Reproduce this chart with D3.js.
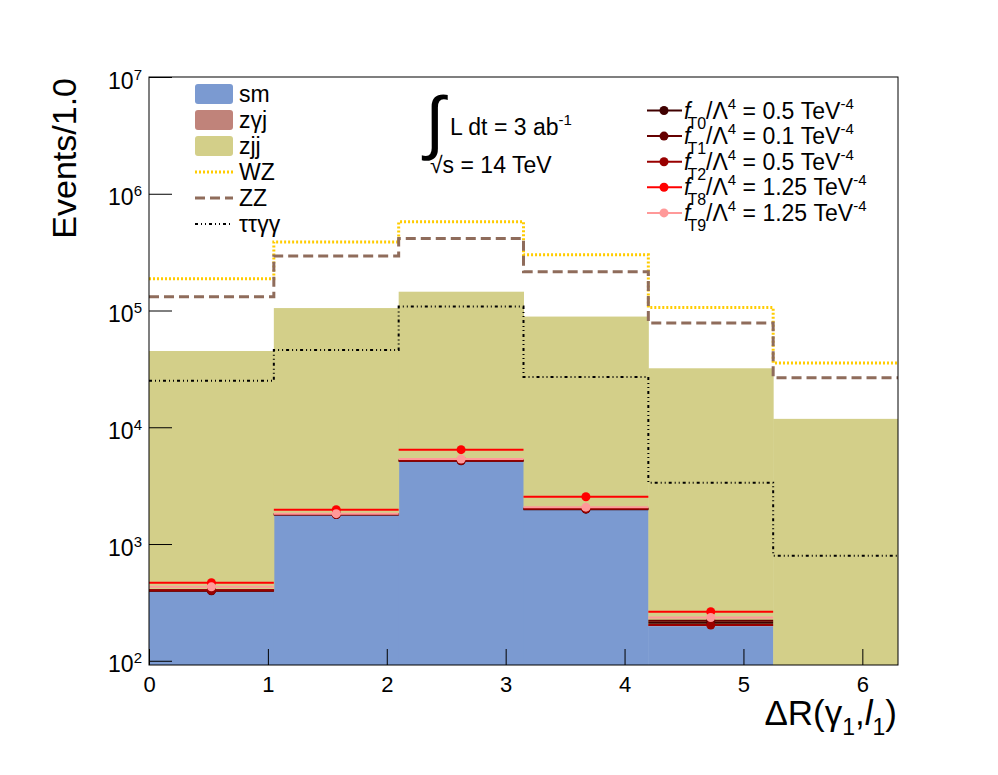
<!DOCTYPE html>
<html>
<head>
<meta charset="UTF-8">
<title>dR(gamma1, l1)</title>
<script src="https://d3js.org/d3.v7.min.js"></script>
<style>
  body { margin: 0; background: #fff; }
  svg text { font-family: "Liberation Sans", Arial, Helvetica, sans-serif; fill: #000; }
</style>
</head>
<body>
<div id="chart"></div>
<script>
// bins of dR(gamma1, l1)
const binEdges = [0, 1.05, 2.1, 3.15, 4.2, 5.25, 6.3];

// stacked backgrounds (bottom to top)
const smVals  = [392, 1770, 5150, 1980, 198, 0];
const zgjVals = [20, 60, 150, 60, 8, 3];
const zjjVals = [44600, 103100, 139600, 86700, 31800, 11800];

// line-only backgrounds
const wzVals   = [187000, 387000, 575000, 300000, 106000, 35600];
const zzVals   = [131000, 293000, 413000, 215000, 78000, 26500];
const ttggVals = [25000, 46000, 108000, 27000, 3350, 795];

// aQGC signals
const t0Vals = [398, 1790, 5170, 1990, 212, 0];
const t1Vals = [400, 1795, 5190, 2000, 220, 0];
const t2Vals = [402, 1800, 5200, 2005, 202, 0];
const t8Vals = [466, 1970, 6430, 2540, 263, 0];
const t9Vals = [430, 1820, 5350, 2070, 235, 0];

const xTicks = [0, 1, 2, 3, 4, 5, 6];
const yTicks = [1e2, 1e3, 1e4, 1e5, 1e6, 1e7];

const width = 998, height = 775;
const margin = { top: 77, right: 100, bottom: 110, left: 149 };

const svg = d3.select("#chart").append("svg")
  .attr("width", width).attr("height", height);

svg.append("rect").attr("width", width).attr("height", height).attr("fill", "#fff");

const x = d3.scaleLinear().domain([0, 6.3]).range([margin.left, width - margin.right]);
const y = d3.scaleLog().domain([92, 1e7]).range([height - margin.bottom, margin.top]);

svg.append("clipPath").attr("id", "plot")
  .append("rect")
  .attr("x", margin.left).attr("y", margin.top)
  .attr("width", x(6.3) - x(0)).attr("height", y(92) - y(1e7));

const plot = svg.append("g").attr("clip-path", "url(#plot)");

// stacked fills
const rows = smVals.map((d, i) => ({ bin: i, sm: d, zgj: zgjVals[i], zjj: zjjVals[i] }));
const stack = d3.stack().keys(["sm", "zgj", "zjj"])(rows);
const fillColor = { sm: "#7b9ad1", zgj: "#c0837a", zjj: "#d3cf89" };
const yFloor = v => y(Math.max(v, 92));

stack.forEach(layer => {
  plot.selectAll(null)
    .data(layer.filter(d => d[1] > d[0]))
    .enter().append("rect")
    .attr("x", d => x(binEdges[d.data.bin]))
    .attr("width", d => x(binEdges[d.data.bin + 1]) - x(binEdges[d.data.bin]) + 0.5)
    .attr("y", d => yFloor(d[1]))
    .attr("height", d => yFloor(d[0]) - yFloor(d[1]))
    .attr("fill", fillColor[layer.key]);
});

// step outlines
const step = d3.line().curve(d3.curveStepAfter).x(d => x(d[0])).y(d => y(d[1]));
function stepPts(vals) {
  const pts = vals.map((v, i) => [binEdges[i], v]);
  pts.push([binEdges[vals.length], vals[vals.length - 1]]);
  return pts;
}
const lines = [
  { vals: wzVals, color: "#ffcc00", w: 3, dash: "2,2" },
  { vals: zzVals, color: "#8f6c5b", w: 3, dash: "10,5" },
  { vals: ttggVals, color: "#000", w: 2, dash: "3,3,1,3,1,3" }
];
lines.forEach(l => {
  plot.append("path").datum(stepPts(l.vals))
    .attr("d", step).attr("fill", "none")
    .attr("stroke", l.color).attr("stroke-width", l.w)
    .attr("stroke-dasharray", l.dash);
});

// signal points with horizontal bin-width bars
const signals = [
  { vals: t0Vals, color: "#400000", sub: "T0", val: "0.5" },
  { vals: t1Vals, color: "#660000", sub: "T1", val: "0.1" },
  { vals: t2Vals, color: "#990000", sub: "T2", val: "0.5" },
  { vals: t8Vals, color: "#ff0000", sub: "T8", val: "1.25" },
  { vals: t9Vals, color: "#ff9999", sub: "T9", val: "1.25" }
];
signals.forEach(s => {
  const pts = s.vals.map((v, i) => ({ i, v })).filter(d => d.v > 0);
  plot.selectAll(null).data(pts).enter().append("line")
    .attr("x1", d => x(binEdges[d.i])).attr("x2", d => x(binEdges[d.i + 1]))
    .attr("y1", d => y(d.v)).attr("y2", d => y(d.v))
    .attr("stroke", s.color).attr("stroke-width", 2);
  plot.selectAll(null).data(pts).enter().append("circle")
    .attr("cx", d => x((binEdges[d.i] + binEdges[d.i + 1]) / 2))
    .attr("cy", d => y(d.v)).attr("r", 4.5)
    .attr("fill", s.color);
});

// frame
svg.append("rect")
  .attr("x", margin.left).attr("y", margin.top)
  .attr("width", x(6.3) - x(0)).attr("height", y(92) - y(1e7))
  .attr("fill", "none").attr("stroke", "#000").attr("stroke-width", 1);

// x axis
const xMinor = d3.range(0, 6.3, 0.2).filter(v => Math.abs(v - Math.round(v)) > 1e-6);
const xAxisG = svg.append("g").attr("transform", `translate(0,${height - margin.bottom})`);
xAxisG.call(d3.axisBottom(x).tickValues(xMinor).tickSize(-8).tickFormat(""));
xAxisG.call(d3.axisBottom(x).tickValues(xTicks).tickSizeInner(-16).tickSizeOuter(0)
  .tickPadding(11).tickFormat(d3.format("d")));
xAxisG.selectAll(".domain").remove();
xAxisG.selectAll("line").attr("stroke", "#000");
xAxisG.selectAll("text").attr("font-size", 22);

// y axis
const yMinor = [];
for (let e = 1; e < 7; e++) for (let m = 2; m < 10; m++) {
  const v = m * Math.pow(10, e);
  if (v > 92 && v < 1e7) yMinor.push(v);
}
const yAxisG = svg.append("g").attr("transform", `translate(${margin.left},0)`);
yAxisG.call(d3.axisLeft(y).tickValues(yMinor).tickSize(-12).tickFormat(""));
yAxisG.call(d3.axisLeft(y).tickValues(yTicks).tickSizeInner(-23).tickSizeOuter(0)
  .tickPadding(7).tickFormat(""));
yAxisG.selectAll(".domain").remove();
yAxisG.selectAll("line").attr("stroke", "#000");
yAxisG.selectAll(".tick").filter(d => yTicks.includes(d)).select("text")
  .attr("font-size", 23).attr("dy", "0.48em")
  .each(function (d) {
    const t = d3.select(this);
    t.append("tspan").text("10");
    t.append("tspan").attr("font-size", 15).attr("dy", -9).text(Math.round(Math.log10(d)));
  });

// axis titles
svg.append("text")
  .attr("transform", "translate(76,78) rotate(-90)")
  .attr("text-anchor", "end").attr("font-size", 34)
  .text("Events/1.0");

const xt = svg.append("text").attr("x", 897).attr("y", 725)
  .attr("text-anchor", "end").attr("font-size", 35);
xt.append("tspan").text("\u0394R(\u03b3");
xt.append("tspan").attr("font-size", 23).attr("dy", 10).text("1");
xt.append("tspan").attr("dy", -10).text(",");
xt.append("tspan").attr("font-style", "italic").text("l");
xt.append("tspan").attr("font-size", 23).attr("dy", 10).text("1");
xt.append("tspan").attr("dy", -10).text(")");

// luminosity text
svg.append("text").attr("x", 425).attr("y", 146).attr("font-size", 70)
  .attr("font-family", "DejaVu Sans").text("\u222b");
const lum = svg.append("text").attr("x", 450).attr("y", 135).attr("font-size", 23);
lum.append("tspan").text("L dt = 3 ab");
lum.append("tspan").attr("font-size", 15).attr("dy", -10).text("-1");
svg.append("text").attr("x", 430).attr("y", 173).attr("font-size", 23)
  .text("\u221as = 14 TeV");

// left legend
const legL = [
  { label: "sm", type: "box", color: fillColor.sm },
  { label: "z\u03b3j", type: "box", color: fillColor.zgj },
  { label: "zjj", type: "box", color: fillColor.zjj },
  { label: "WZ", type: "line", l: lines[0] },
  { label: "ZZ", type: "line", l: lines[1] },
  { label: "\u03c4\u03c4\u03b3\u03b3", type: "line", l: lines[2] }
];
legL.forEach((e, i) => {
  const cy = 94 + i * 26;
  if (e.type === "box") {
    svg.append("rect").attr("x", 195).attr("y", cy - 10).attr("width", 38).attr("height", 20)
      .attr("rx", 3).attr("fill", e.color);
  } else {
    svg.append("line").attr("x1", 195).attr("x2", 233).attr("y1", cy).attr("y2", cy)
      .attr("stroke", e.l.color).attr("stroke-width", e.l.w).attr("stroke-dasharray", e.l.dash);
  }
  svg.append("text").attr("x", 239).attr("y", cy + 8).attr("font-size", 23).text(e.label);
});

// right legend
signals.forEach((s, i) => {
  const cy = 110.5 + i * 25.6;
  svg.append("line").attr("x1", 647).attr("x2", 682).attr("y1", cy).attr("y2", cy)
    .attr("stroke", s.color).attr("stroke-width", 2);
  svg.append("circle").attr("cx", 664).attr("cy", cy).attr("r", 4.5).attr("fill", s.color);
  const t = svg.append("text").attr("x", 684).attr("y", cy + 8).attr("font-size", 23);
  t.append("tspan").attr("font-style", "italic").text("f");
  t.append("tspan").attr("font-size", 16).attr("dx", -3).attr("dy", 10).text(s.sub);
  t.append("tspan").attr("dy", -10).text("/\u039b");
  t.append("tspan").attr("font-size", 15).attr("dy", -10).text("4");
  t.append("tspan").attr("dy", 10).text(` = ${s.val} TeV`);
  t.append("tspan").attr("font-size", 15).attr("dy", -10).text("-4");
});
</script>
</body>
</html>
